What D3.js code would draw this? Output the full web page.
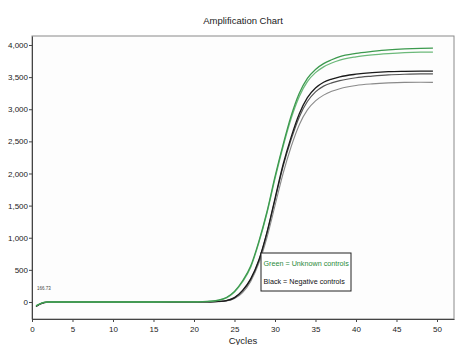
<!DOCTYPE html>
<html>
<head>
<meta charset="utf-8">
<script src="https://cdn.jsdelivr.net/npm/d3@7"></script>
<style>
  body { margin: 0; background: #ffffff; }
  text { font-family: "Liberation Sans", Arial, sans-serif; }
</style>
</head>
<body>
<div id="chart"></div>
<script>
// Cycle numbers the curves were read at
var cycles = [0.5, 1, 1.5, 2, 5, 10, 15, 20, 21, 22, 23, 24, 25, 26, 27, 28, 29, 30,
              31, 32, 33, 34, 35, 36, 37, 38, 40, 42, 44, 46, 48, 49.5];

// Unknown controls (green)
var green1 = [-60, -28, -8, 0, 0, 0, 0, 2, 5, 12, 28, 70, 165, 330, 560, 940, 1400, 1950,
              2450, 2900, 3250, 3480, 3620, 3710, 3770, 3820, 3870, 3900, 3925, 3940, 3948, 3950];
var green2 = [-60, -28, -8, 0, 0, 0, 0, 2, 4, 10, 25, 64, 155, 315, 540, 920, 1380, 1920,
              2420, 2860, 3200, 3430, 3570, 3660, 3720, 3765, 3815, 3845, 3865, 3880, 3888, 3890];

// Negative controls (black / grey)
var black1 = [-70, -32, -10, 0, 0, 0, 0, 0, 1, 3, 8, 22, 68, 180, 360, 650, 1080, 1610,
              2140, 2570, 2930, 3180, 3330, 3420, 3470, 3505, 3545, 3570, 3585, 3590, 3592, 3592];
var black2 = [-70, -32, -10, 0, 0, 0, 0, 0, 1, 3, 7, 20, 64, 172, 350, 640, 1070, 1590,
              2110, 2530, 2880, 3120, 3270, 3360, 3410, 3445, 3490, 3515, 3535, 3545, 3550, 3550];
var grey1  = [-65, -30, -9, 0, 0, 0, 0, 0, 1, 2, 5, 15, 52, 145, 320, 600, 1000, 1500,
              2000, 2420, 2760, 2990, 3130, 3220, 3280, 3320, 3370, 3395, 3410, 3418, 3420, 3418];

var xTicks = [0, 5, 10, 15, 20, 25, 30, 35, 40, 45, 50];
var yTicks = [0, 500, 1000, 1500, 2000, 2500, 3000, 3500, 4000];
var legendLines = ["Green = Unknown controls", "Black = Negative controls"];

// Define dimensions of chart
var svg_dx = 459,
    svg_dy = 345,
    margin = {top: 36, right: 5, bottom: 26, left: 32},
    width  = svg_dx - margin.left - margin.right,
    height = svg_dy - margin.top - margin.bottom;

var xScale = d3.scaleLinear()
               .domain([0, 52.1])
               .range([0, width]);

var yScale = d3.scaleLinear()
               .domain([-265, 4140])
               .range([height, 0]);

var svg = d3.select("#chart")
            .append("svg")
            .attr("width", svg_dx)
            .attr("height", svg_dy);

// Title
svg.append("text")
   .attr("x", 243)
   .attr("y", 24)
   .attr("text-anchor", "middle")
   .style("font-size", "9.5px")
   .style("fill", "#222")
   .text("Amplification Chart");

var g = svg.append("g")
           .attr("transform", "translate(" + margin.left + "," + margin.top + ")");

// Plot frame
g.append("rect")
 .attr("width", width)
 .attr("height", height)
 .style("fill", "#fdfdfd")
 .style("stroke", "#8a8a8a")
 .style("stroke-width", 1);

// Axes
var xAxis = g.append("g")
             .attr("transform", "translate(0," + height + ")")
             .call(d3.axisBottom(xScale).tickValues(xTicks).tickSize(3).tickSizeOuter(0));

var yAxis = g.append("g")
             .call(d3.axisLeft(yScale).tickValues(yTicks).tickSize(3).tickSizeOuter(0)
                     .tickFormat(d3.format(",")));

[xAxis, yAxis].forEach(function(ax) {
    ax.select(".domain").style("stroke", "#444");
    ax.selectAll(".tick line").style("stroke", "#444");
    ax.selectAll("text")
      .style("font-size", "8px")
      .style("font-family", "'Liberation Sans', Arial, sans-serif")
      .style("fill", "#222");
});
xAxis.selectAll("text").attr("dy", "0.9em");
yAxis.selectAll("text").attr("x", -4);

// Axis label
svg.append("text")
   .attr("x", 243)
   .attr("y", 344)
   .attr("text-anchor", "middle")
   .style("font-size", "9.5px")
   .style("fill", "#222")
   .text("Cycles");

// Threshold label
g.append("text")
 .attr("x", 5)
 .attr("y", yScale(190))
 .style("font-size", "4.5px")
 .style("fill", "#444")
 .text("166.73");

// Curves
var line = d3.line()
             .x(function(d, i) { return xScale(cycles[i]); })
             .y(function(d) { return yScale(d); })
             .curve(d3.curveMonotoneX);

var series = [
    {values: grey1,  color: "#8a8a8a", w: 1.1},
    {values: black2, color: "#555555", w: 1.2},
    {values: black1, color: "#1a1a1a", w: 1.3},
    {values: green2, color: "#6cb97a", w: 1.3},
    {values: green1, color: "#3c9a4e", w: 1.3}
];

g.selectAll(".curve")
 .data(series)
 .enter()
 .append("path")
 .attr("class", "curve")
 .attr("d", function(d) { return line(d.values); })
 .style("fill", "none")
 .style("stroke", function(d) { return d.color; })
 .style("stroke-width", function(d) { return d.w; });

// Legend
var legend = svg.append("g")
                .attr("transform", "translate(261,253)");

legend.append("rect")
      .attr("width", 90)
      .attr("height", 38)
      .style("fill", "#ffffff")
      .style("stroke", "#222")
      .style("stroke-width", 1);

legend.selectAll("text")
      .data(legendLines)
      .enter()
      .append("text")
      .attr("x", 2.5)
      .attr("y", function(d, i) { return 13 + i * 18; })
      .style("font-size", "7.2px")
      .style("fill", function(d, i) { return i === 0 ? "#2a8a3a" : "#111"; })
      .text(function(d) { return d; });
</script>
</body>
</html>
